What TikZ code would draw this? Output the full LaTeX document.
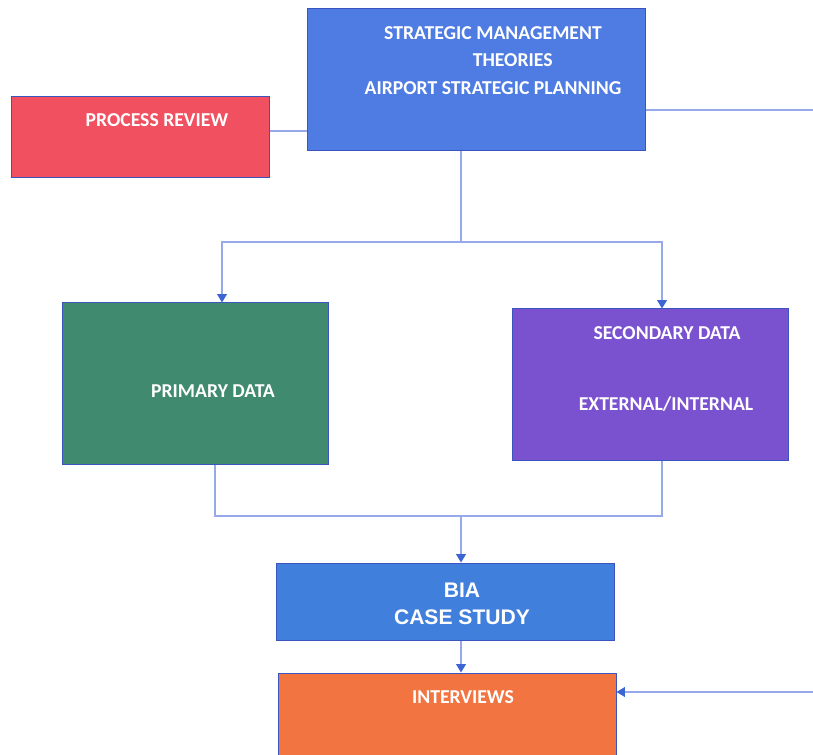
\documentclass[tikz,border=0pt]{standalone}
\usepackage{fontspec}
\setmainfont{Carlito}
\newfontfamily\arialfont{Liberation Sans}
\usetikzlibrary{arrows.meta}

\definecolor{theoryblue}{RGB}{78,124,226}
\definecolor{reviewred}{RGB}{240,80,95}
\definecolor{primarygreen}{RGB}{64,138,112}
\definecolor{secondpurple}{RGB}{122,82,208}
\definecolor{caseblue}{RGB}{64,128,220}
\definecolor{interorange}{RGB}{242,116,64}
\definecolor{boxedge}{RGB}{60,84,190}
\definecolor{linkblue}{RGB}{150,170,235}
\definecolor{tipblue}{RGB}{60,100,210}

\tikzset{
  box/.style={rectangle, draw=boxedge, fill=#1, line width=0.7pt, inner sep=0pt},
  boxtext/.style={text=white, font=\bfseries\fontsize{14}{19.5}\selectfont, align=center},
  link/.style={draw=linkblue, line width=0.8pt},
  tip/.style={-{Triangle[length=6pt,width=7pt,color=tipblue]}}
}

\begin{document}
\begin{tikzpicture}[x=0.025cm, y=-0.025cm]

          \useasboundingbox (0,0) rectangle (813,754);
          \clip (0,0) rectangle (813,754);
          \fill[white] (0,0) rectangle (813,754);

          \node[box=theoryblue, minimum width=8.425cm, minimum height=3.525cm] (theory) at (476.5,79.5) {};
          \node[box=reviewred, minimum width=6.425cm, minimum height=2cm] (review) at (140.5,137) {};
          \node[box=primarygreen, minimum width=6.625cm, minimum height=4.025cm] (primary) at (195.5,383.5) {};
          \node[box=secondpurple, minimum width=6.875cm, minimum height=3.775cm] (secondary) at (650.5,384.5) {};
          \node[box=caseblue, minimum width=8.425cm, minimum height=1.925cm] (case) at (445.5,601.5) {};
          \node[box=interorange, minimum width=8.425cm, minimum height=2.5cm] (interviews) at (447.5,723) {};

          \node[boxtext] (theorytext) at (493,60.5) {STRATEGIC MANAGEMENT\\\hspace*{2em}THEORIES\\AIRPORT STRATEGIC PLANNING};
          \node[boxtext] (reviewtext) at (157,120) {PROCESS REVIEW};
          \node[boxtext] (primarytext) at (213,391) {PRIMARY DATA};
          \node[boxtext] (secondtext) at (667,333) {SECONDARY DATA};
          \node[boxtext] (sourcetext) at (666,404) {EXTERNAL/INTERNAL};
          \node[boxtext, font=\arialfont\bfseries\fontsize{15}{19.2}\selectfont] (casetext) at (462,603.5) {BIA\\CASE STUDY};
          \node[boxtext] (intertext) at (463,697) {INTERVIEWS};

          \coordinate (split) at (461,242);
          \coordinate (join) at (461,516);
          \coordinate (rightout) at (813,110);
          \coordinate (rightin) at (813,692);

          \draw[link] (review.east |- 0,131) -- (theory.west |- 0,131);
          \draw[link] (theory.east |- rightout) -- (rightout);
          \draw[link] (split |- theory.south) -- (split);

          \draw[link, tip] (split) -| (primary.north -| 222,0);
          \draw[link, tip] (split) -| (secondary.north -| 662,0);

          \draw[link] (primary.south -| 215,0) |- (join) -| (secondary.south -| 662,0);
          \draw[link, tip] (join) -- (case.north -| join);
          \draw[link, tip] (case.south -| join) -- (interviews.north -| join);
          \draw[link, tip] (rightin) -- (interviews.east |- rightin);
        \end{tikzpicture}
\end{document}
